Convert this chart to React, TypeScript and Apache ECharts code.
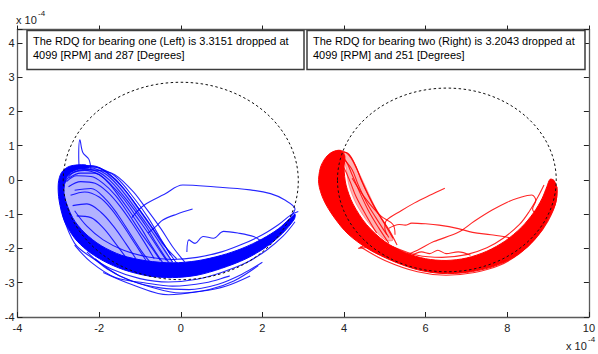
import React, { useEffect, useRef } from "react";
import * as echarts from "echarts";

// ---- axes (values in units of 1e-4) ----
const xMin = -4;
const xMax = 10;
const xStep = 2;
const yMin = -4;
const yMax = 4.39;
const yStep = 1;
const axisExponent = "-4";

// ---- annotation texts ----
const noteLeft = ["The RDQ for bearing one (Left) is 3.3151 dropped at", "4099 [RPM] and 287 [Degrees]"];
const noteRight = ["The RDQ for bearing two (Right) is 3.2043 dropped at", "4099 [RPM] and 251 [Degrees]"];

// ---- reference circles: [cx, cy, r] ----
const circles = [
  [0, -0.03, 2.88],
  [6.52, 0, 2.68],
];

// ---- bearing one (blue) ----
const blueCore = [
  [-2.25, 0.36], [-2.55, 0.3], [-2.78, 0.12], [-2.86, -0.4], [-2.65, -1.1], [-2.35, -1.55], [-1.95, -1.92], [-1.45, -2.2], [-0.85, -2.36],
  [-0.2, -2.42], [0.4, -2.36], [1.0, -2.2], [1.5, -2.0], [2.0, -1.72], [2.4, -1.42], [2.65, -1.15], [2.8, -1.0],
  [2.78, -1.15], [2.5, -1.55], [2.1, -1.95], [1.6, -2.3], [1.0, -2.58], [0.4, -2.78], [-0.2, -2.85],
  [-0.8, -2.8], [-1.4, -2.62], [-1.9, -2.36], [-2.3, -2.05], [-2.6, -1.7], [-2.85, -1.2], [-2.98, -0.6], [-3.0, -0.1],
  [-2.92, 0.22], [-2.72, 0.4], [-2.35, 0.44],
];
const blueLobe = [
  [-2.92, 0.0], [-2.82, 0.25], [-2.6, 0.4], [-2.25, 0.42], [-1.9, 0.3], [-1.55, -0.05], [-1.2, -0.55],
  [-0.85, -1.15], [-0.5, -1.8], [-0.25, -2.3], [-0.2, -2.42], [-0.85, -2.36], [-1.45, -2.2], [-1.95, -1.92],
  [-2.35, -1.55], [-2.65, -1.1], [-2.85, -0.5],
];
const blueLoop1 = [[-2.95, -0.3], [-2.9, 0.05], [-2.75, 0.3], [-2.5, 0.42], [-2.2, 0.42], [-1.9, 0.3], [-1.6, 0.02], [-1.3, -0.4], [-1.0, -0.9], [-0.7, -1.4], [-0.4, -1.9], [-0.15, -2.35], [0.0, -2.55]];
const blueLoop2 = [[-2.9, -0.2], [-2.8, 0.15], [-2.55, 0.35], [-2.2, 0.35], [-1.85, 0.18], [-1.55, -0.15], [-1.25, -0.6], [-0.95, -1.1], [-0.65, -1.6], [-0.4, -2.05], [-0.2, -2.4]];
const blueLoop3 = [[-2.85, -0.1], [-2.65, 0.2], [-2.35, 0.28], [-2.0, 0.15], [-1.7, -0.15], [-1.4, -0.55], [-1.1, -1.05], [-0.8, -1.55], [-0.55, -2.0], [-0.35, -2.35]];
const blueLoop4 = [[-2.8, -0.05], [-2.55, 0.12], [-2.2, 0.1], [-1.9, -0.1], [-1.6, -0.45], [-1.3, -0.95], [-1.0, -1.5], [-0.7, -2.0], [-0.5, -2.35]];
const blueLoop5 = [[-2.75, -0.2], [-2.45, -0.05], [-2.1, -0.1], [-1.8, -0.35], [-1.5, -0.75], [-1.2, -1.25], [-0.9, -1.8], [-0.65, -2.3]];
const blueLoop6 = [[-2.7, -0.45], [-2.35, -0.35], [-2.0, -0.5], [-1.7, -0.85], [-1.4, -1.35], [-1.1, -1.9], [-0.85, -2.35]];
const blueLoop7 = [[-2.65, -0.75], [-2.3, -0.7], [-1.95, -0.95], [-1.65, -1.35], [-1.35, -1.85], [-1.1, -2.3]];
const blueLoop8 = [[-2.55, -1.05], [-2.2, -1.1], [-1.9, -1.4], [-1.6, -1.85], [-1.35, -2.25]];
const blueLoop9 = [[-2.8, 0.1], [-2.4, 0.3], [-1.7, 0.2], [-1.2, -0.3], [-0.9, -0.75], [-0.5, -1.4], [-0.2, -1.95], [0.1, -2.4]];
const blueLoop10 = [[-2.7, 0.25], [-2.3, 0.4], [-2.0, 0.35], [-1.6, 0.1], [-1.1, -0.6], [-0.8, -1.1], [-0.5, -1.7], [-0.25, -2.2]];
const blueLoop11 = [[-2.6, -0.3], [-2.2, -0.25], [-1.85, -0.55], [-1.55, -1.0], [-1.25, -1.55], [-0.95, -2.1], [-0.75, -2.4]];
const blueLoop12 = [[-2.85, 0.2], [-2.5, 0.33], [-2.05, 0.25], [-1.75, 0.0], [-1.45, -0.4], [-1.15, -0.85], [-0.85, -1.35], [-0.6, -1.85], [-0.3, -2.4]];
const blueLoop13 = [[-2.75, 0.05], [-2.45, 0.2], [-2.1, 0.2], [-1.8, -0.05], [-1.5, -0.5], [-1.2, -1.0], [-0.95, -1.45], [-0.7, -1.95], [-0.45, -2.4]];
const blueLoop14 = [[-2.6, 0.38], [-2.1, 0.38], [-1.75, 0.15], [-1.4, -0.25], [-1.05, -0.8], [-0.75, -1.3], [-0.45, -1.85], [-0.1, -2.3]];
const blueSpike = [[-2.49, 0.35], [-2.5, 0.7], [-2.47, 1.17], [-2.4, 0.8], [-2.25, 0.6], [-2.2, 0.29]];
const blueStray1 = [[-1.2, -1.1], [-0.9, -0.74], [-0.4, -0.42], [0.05, -0.15], [0.8, -0.2], [1.7, -0.29], [2.2, -0.4], [2.54, -0.58], [2.8, -0.85], [2.7, -1.05]];
const blueStray2 = [[-0.8, -1.55], [-0.6, -1.35], [-0.44, -1.17], [-0.1, -1.0], [0.29, -0.85]];
const blueStray3 = [[0.15, -2.1], [0.2, -1.75], [0.35, -1.85], [0.55, -1.65], [0.8, -1.7], [1.05, -1.5], [1.4, -1.55], [1.8, -1.66], [2.1, -1.85], [2.3, -1.7]];
const blueUpperFringe = [[-2.6, -0.9], [-2.3, -1.35], [-1.9, -1.75], [-1.4, -2.05], [-0.8, -2.25], [-0.2, -2.32], [0.4, -2.26], [1.0, -2.1], [1.5, -1.88], [2.0, -1.6], [2.4, -1.3], [2.7, -1.02], [2.88, -0.92]];
const blueLowerFringe = [[-2.9, -1.0], [-2.6, -1.85], [-2.2, -2.25], [-1.7, -2.6], [-1.0, -2.88], [-0.3, -2.98], [0.4, -2.9], [1.0, -2.7], [1.6, -2.42], [2.1, -2.05], [2.5, -1.65], [2.8, -1.22]];
const blueLow1 = [[-2.3, -2.1], [-1.8, -2.6], [-1.2, -2.95], [-0.5, -3.15], [0.2, -3.2], [0.9, -3.05], [1.5, -2.75], [2.0, -2.4]];
const blueLow2 = [[-2.1, -2.3], [-1.5, -2.8], [-0.8, -3.1], [0.0, -3.3], [0.7, -3.2], [1.3, -2.95], [1.9, -2.5]];
const blueLow3 = [[-2.6, -1.9], [-2.2, -2.4], [-1.6, -2.85], [-0.9, -3.0], [-0.2, -3.1], [0.6, -3.0], [1.2, -2.8]];
const blueLow4 = [[-1.9, -2.7], [-1.2, -3.05], [-0.3, -3.35], [0.5, -3.25], [1.1, -3.1], [1.7, -2.8]];

// ---- bearing two (red) ----
const redCore = [
  [3.72, 0.82], [3.92, 0.86], [4.02, 0.7], [4.0, 0.35], [4.05, -0.15], [4.22, -0.7], [4.55, -1.3], [5.0, -1.8],
  [5.5, -2.12], [6.0, -2.3], [6.5, -2.35], [7.0, -2.28], [7.5, -2.08], [7.95, -1.78], [8.35, -1.38], [8.65, -0.95],
  [8.85, -0.55], [8.97, -0.2], [9.05, 0.02], [9.15, -0.02], [9.22, -0.3], [9.18, -0.7], [9.02, -1.12], [8.8, -1.55],
  [8.5, -1.95], [8.1, -2.3], [7.6, -2.55], [7.0, -2.7], [6.4, -2.73], [5.8, -2.62], [5.2, -2.37], [4.6, -2.02],
  [4.1, -1.58], [3.75, -1.08], [3.5, -0.58], [3.38, -0.1], [3.42, 0.35], [3.55, 0.65],
];
const redLobe = [
  [3.95, 0.85], [4.15, 0.7], [4.45, 0.0], [4.76, -0.78], [5.0, -1.26], [5.2, -1.75], [5.0, -1.75], [4.6, -1.25],
  [4.3, -0.7], [4.12, -0.15], [4.05, 0.35],
];
const redLoop1 = [[3.6, 0.6], [3.85, 0.85], [4.1, 0.75], [4.3, 0.35], [4.5, -0.2], [4.7, -0.7], [4.95, -1.2], [5.2, -1.7]];
const redLoop2 = [[3.7, 0.5], [3.9, 0.7], [4.05, 0.55], [4.2, 0.15], [4.4, -0.4], [4.6, -0.9], [4.85, -1.4], [5.1, -1.85]];
const redLoop3 = [[3.7, 0.3], [3.9, 0.5], [4.0, 0.35], [4.15, -0.05], [4.3, -0.5], [4.55, -1.05], [4.8, -1.55]];
const redLoop4 = [[3.75, 0.72], [4.05, 0.8], [4.25, 0.5], [4.42, 0.0], [4.62, -0.5], [4.85, -1.0], [5.1, -1.45], [5.3, -1.9]];
const redLoop5 = [[4.0, 0.6], [4.2, 0.3], [4.35, -0.15], [4.55, -0.65], [4.78, -1.1], [5.05, -1.6]];
const redLoop6 = [[4.2, 0.05], [4.5, -0.5], [4.9, -1.05], [5.2, -1.3], [5.25, -1.6]];
const redStray1 = [[6.47, -0.24], [6.1, -0.45], [5.73, -0.67], [5.4, -0.9], [5.04, -1.18], [5.0, -1.4], [5.1, -1.68]];
const redStray2 = [[5.1, -1.41], [5.35, -1.3], [5.5, -1.32], [5.66, -1.26], [6.0, -1.28], [6.33, -1.32], [6.8, -1.42], [7.15, -1.53], [7.6, -1.6], [8.03, -1.68], [8.2, -1.8]];
const redStray3 = [[5.5, -2.2], [5.8, -2.05], [6.2, -1.8], [6.8, -1.53], [7.2, -1.2], [7.63, -0.88], [8.0, -0.65], [8.27, -0.53], [8.6, -0.44], [8.7, -0.6], [8.62, -0.85], [8.75, -1.05]];
const redWiggle = [[5.6, -2.25], [5.9, -2.1], [6.1, -2.15], [6.3, -2.05], [6.5, -2.15], [6.8, -2.1], [7.1, -2.2]];
const redSpur = [[4.6, -1.85], [4.35, -2.0], [4.7, -1.95]];
const redUpperFringe = [[5.2, -1.95], [5.8, -2.2], [6.4, -2.26], [7.0, -2.18], [7.5, -1.98], [7.9, -1.7], [8.3, -1.3], [8.55, -0.9], [8.75, -0.5], [8.9, -0.15]];
const redLowerFringe = [[4.4, -1.95], [5.0, -2.35], [5.8, -2.68], [6.5, -2.78], [7.2, -2.7], [7.8, -2.5], [8.3, -2.15], [8.7, -1.7], [9.0, -1.2], [9.2, -0.6], [9.22, -0.2]];

const BLUE = "#0000ff";
const RED = "#ff0000";
const FONT = '"Liberation Sans", Arial, sans-serif';

const blueThin = [
  blueLoop1, blueLoop2, blueLoop3, blueLoop4, blueLoop5, blueLoop6, blueLoop7, blueLoop8, blueLoop9, blueLoop10,
  blueLoop11, blueLoop12, blueLoop13, blueLoop14, blueSpike, blueStray1, blueStray2, blueStray3, blueUpperFringe,
  blueLowerFringe, blueLow1, blueLow2, blueLow3, blueLow4,
];
const redThin = [
  redLoop1, redLoop2, redLoop3, redLoop4, redLoop5, redLoop6, redStray1, redStray2, redStray3, redWiggle, redSpur,
  redUpperFringe, redLowerFringe,
];

function polySeries(pts: number[][], color: string, opacity: number, z: number) {
  return {
    type: "custom",
    coordinateSystem: "cartesian2d",
    silent: true,
    z,
    data: [pts[0]],
    renderItem: (_p: any, api: any) => ({
      type: "polygon",
      shape: { points: pts.map((p) => api.coord(p)), smooth: 0.3 },
      style: { fill: color, opacity, stroke: color, lineWidth: 1 },
    }),
  };
}

function lineSeries(pts: number[][], color: string, width: number, opacity: number, z: number) {
  return {
    type: "line",
    data: pts,
    symbol: "none",
    showSymbol: false,
    smooth: 0.35,
    silent: true,
    z,
    lineStyle: { color, width, opacity },
  };
}

export default function App() {
  const ref = useRef<HTMLDivElement>(null);
  useEffect(() => {
    if (!ref.current) return;
    const chart = echarts.init(ref.current, undefined, { renderer: "svg" });
    const axisLineStyle = { color: "#5a5a5a", width: 1.3 };
    const tickStyle = { color: "#222", width: 1 };
    const series: any[] = [];
    series.push(polySeries(blueLobe, BLUE, 0.3, 2));
    series.push(polySeries(redLobe, RED, 0.3, 2));
    blueThin.forEach((l) => series.push(lineSeries(l, BLUE, 1.1, 0.85, 3)));
    redThin.forEach((l) => series.push(lineSeries(l, RED, 1.1, 0.85, 3)));
    series.push(polySeries(blueCore, BLUE, 1, 4));
    series.push(polySeries(redCore, RED, 1, 4));
    series.push({
      type: "custom",
      coordinateSystem: "cartesian2d",
      silent: true,
      z: 6,
      data: circles,
      renderItem: (_p: any, api: any) => {
        const c = api.coord([api.value(0), api.value(1)]);
        const s = api.size([api.value(2), api.value(2)]);
        return {
          type: "ellipse",
          shape: { cx: c[0], cy: c[1], rx: s[0], ry: s[1] },
          style: { fill: "none", stroke: "#111", lineWidth: 1, lineDash: [2.5, 2.5] },
        };
      },
    });

    chart.setOption({
      animation: false,
      backgroundColor: "#fff",
      grid: { left: 17.5, right: 1.5, top: 29.5, bottom: 37 },
      xAxis: [
        {
          type: "value", min: xMin, max: xMax, interval: xStep, position: "bottom",
          axisLine: { show: true, onZero: false, lineStyle: axisLineStyle },
          axisTick: { show: true, inside: true, length: 5, lineStyle: tickStyle },
          axisLabel: { color: "#222", fontSize: 11, fontFamily: FONT, margin: 5 },
          splitLine: { show: false },
        },
        {
          type: "value", min: xMin, max: xMax, interval: xStep, position: "top",
          axisLine: { show: true, onZero: false, lineStyle: axisLineStyle },
          axisTick: { show: true, inside: false, length: 4, lineStyle: tickStyle },
          axisLabel: { show: false },
          splitLine: { show: false },
        },
      ],
      yAxis: [
        {
          type: "value", min: yMin, max: yMax, interval: yStep, position: "left",
          axisLine: { show: true, onZero: false, lineStyle: axisLineStyle },
          axisTick: { show: true, inside: true, length: 5, lineStyle: tickStyle },
          axisLabel: {
            color: "#222", fontSize: 11, fontFamily: FONT, margin: 3,
            formatter: (v: number) => (Number.isInteger(v) ? String(v) : ""),
          },
          splitLine: { show: false },
        },
        {
          type: "value", min: yMin, max: yMax, interval: yStep, position: "right",
          axisLine: { show: true, onZero: false, lineStyle: axisLineStyle },
          axisTick: { show: true, inside: true, length: 5, lineStyle: tickStyle },
          axisLabel: { show: false },
          splitLine: { show: false },
        },
      ],
      series,
      graphic: [
        { type: "rect", z: 100, shape: { x: 27, y: 30.5, width: 277, height: 39 }, style: { fill: "#fff", stroke: "#3c3c3c", lineWidth: 1.5 } },
        { type: "text", z: 101, x: 33, y: 34, style: { text: noteLeft.join("\n"), font: "11px " + FONT, fill: "#000", lineHeight: 14 } },
        { type: "rect", z: 100, shape: { x: 307, y: 30.5, width: 278, height: 39 }, style: { fill: "#fff", stroke: "#3c3c3c", lineWidth: 1.5 } },
        { type: "text", z: 101, x: 313, y: 34, style: { text: noteRight.join("\n"), font: "11px " + FONT, fill: "#000", lineHeight: 14 } },
        { type: "text", z: 101, x: 16, y: 14, style: { text: "x 10", font: "11px " + FONT, fill: "#222" } },
        { type: "text", z: 101, x: 38, y: 9, style: { text: axisExponent, font: "8px " + FONT, fill: "#222" } },
        { type: "text", z: 101, x: 566, y: 340, style: { text: "x 10", font: "11px " + FONT, fill: "#222" } },
        { type: "text", z: 101, x: 588, y: 335, style: { text: axisExponent, font: "8px " + FONT, fill: "#222" } },
      ],
    });
    return () => chart.dispose();
  }, []);
  return <div ref={ref} style={{ position: "absolute", left: 0, top: 0, width: 598, height: 354 }} />;
}
